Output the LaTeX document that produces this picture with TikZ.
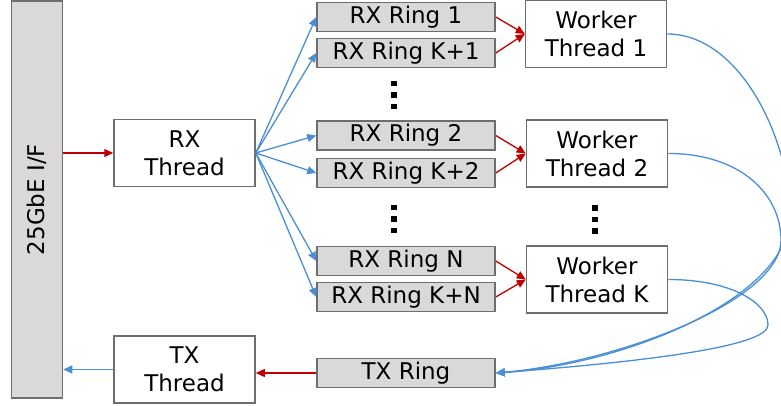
\documentclass[tikz,border=0pt]{standalone}
\usepackage{fontspec}
\setmainfont{DejaVu Sans}
\usepackage{tikz}
\usetikzlibrary{calc,arrows.meta}
\definecolor{rxred}{HTML}{C00000}
\definecolor{txblue}{HTML}{4A8FD4}
\definecolor{ringgray}{HTML}{D9D9D9}
\definecolor{edgegray}{HTML}{6E6E6E}
\def\drawred{\draw[color=rxred, line width=1.3pt, -{Triangle[length=9pt,width=8pt]}]}
\def\drawblue{\draw[color=txblue, line width=1.3pt, -{Triangle[length=9pt,width=8pt]}]}
\def\ringnode{\node[draw=edgegray,fill=ringgray,line width=1.5pt,minimum width=178pt,minimum height=29pt,inner sep=0pt]}
\def\threadnode{\node[draw=edgegray,fill=white,line width=1.5pt,minimum width=141pt,minimum height=67pt,inner sep=0pt,align=center]}
% three square dots stacked around a point
\def\vdotsat(#1){%
  \fill ($ (#1) + (-2.75,-14.25) $) rectangle +(5.5,5.5);
  \fill ($ (#1) + (-2.75,-2.75) $) rectangle +(5.5,5.5);
  \fill ($ (#1) + (-2.75,8.75) $) rectangle +(5.5,5.5);}

\begin{document}
\begin{tikzpicture}[x=1pt,y=-1pt,font=\fontsize{23}{28}\selectfont]
\useasboundingbox (0,0) rectangle (781,406);

% ---------- interface bar on the left
\node[draw=edgegray,fill=ringgray,line width=1.5pt,minimum width=51pt,minimum height=397pt,inner sep=0pt] (nic) at (37,199.5) {};
\node[rotate=90] (niclabel) at (nic.center) {25GbE I/F};

% ---------- rx / tx threads
\threadnode (rx) at (184.5,153) {RX\\Thread};
\threadnode (tx) at (184.5,369.5) {TX\\Thread};

% ---------- rings (x of all rings is the same)
\coordinate (ringx) at (406,0);
\ringnode (r1) at ($ (ringx) + (0,17) $) {RX Ring 1};
\ringnode (rk1) at ($ (ringx) + (0,53) $) {RX Ring K+1};
\ringnode (r2) at ($ (ringx) + (0,135.5) $) {RX Ring 2};
\ringnode (rk2) at ($ (ringx) + (0,173) $) {RX Ring K+2};
\ringnode (rn) at ($ (ringx) + (0,261) $) {RX Ring N};
\ringnode (rkn) at ($ (ringx) + (0,297) $) {RX Ring K+N};
\ringnode (txring) at ($ (ringx) + (0,373) $) {TX Ring};
\coordinate (ringdots1) at ($ (ringx) + (-12,95) $);
\coordinate (ringdots2) at ($ (ringx) + (-12,219) $);
\vdotsat(ringdots1)
\vdotsat(ringdots2)

% ---------- worker threads
\threadnode (w1) at (596,34) {Worker\\Thread 1};
\threadnode (w2) at (597,153.5) {Worker\\Thread 2};
\threadnode (wk) at (597,279.5) {Worker\\Thread K};
\coordinate (workdots) at (595,219.5);
\vdotsat(workdots)

% ---------- receive side
\drawred (nic.east |- rx.west) to (rx.west);
\drawblue (rx.east) to (r1.west);
\drawblue (rx.east) to (rk1.west);
\drawblue (rx.east) to (r2.west);
\drawblue (rx.east) to (rk2.west);
\drawblue (rx.east) to (rn.west);
\drawblue (rx.east) to (rkn.west);

% rings into the workers, two rings per worker
\drawred (r1.east) to (w1.west);
\drawred (rk1.east) to (w1.west);
\drawred (r2.east) to (w2.west);
\drawred (rk2.east) to (w2.west);
\drawred (rn.east) to (wk.west);
\drawred (rkn.east) to (wk.west);

% ---------- the big loops from the workers back to the tx ring
\coordinate (turn1) at (790,215); % runs off the right edge
\coordinate (turn2) at (781,240);
\coordinate (turnk) at (768,325);
\drawblue (w1.east) .. controls ($ (w1.east) + (73,0) $) and (790,140) .. (turn1)
  .. controls (790,300) and (620,365) .. (txring.east);
\drawblue (w2.east) .. controls ($ (w2.east) + (73,0) $) and (781,195) .. (turn2)
  .. controls (781,300) and (620,362) .. (txring.east);
\drawblue (wk.east) .. controls ($ (wk.east) + (63,0) $) and (768,303) .. (turnk)
  .. controls (768,347) and (640,362) .. (txring.east);

% ---------- transmit side
\drawred (txring.west) to (txring.west -| tx.east);
\drawblue (tx.west) to (tx.west -| nic.east);
\end{tikzpicture}
\end{document}
